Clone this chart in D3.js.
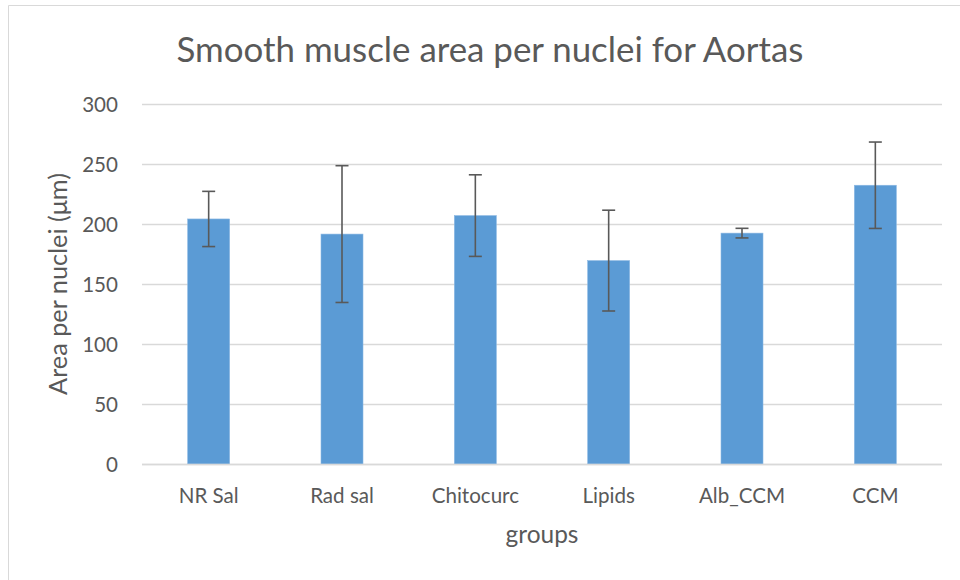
<!DOCTYPE html>
<html><head><meta charset="utf-8">
<script src="https://cdn.jsdelivr.net/npm/d3@7"></script>
<style>body{margin:0;background:#fff}svg{display:block}</style>
</head><body>
<svg id="c" width="960" height="580"></svg>
<script>
const categories = ["NR Sal","Rad sal","Chitocurc","Lipids","Alb_CCM","CCM"];
const values = [204.2, 191.6, 207, 169.5, 192.4, 232.3];
const errors = [23, 57, 34, 42, 4, 36];
const yTicks = [0,50,100,150,200,250,300];
const titleText = "Smooth muscle area per nuclei for Aortas";
const yTitle = "Area per nuclei (\u03bcm)";
const xTitle = "groups";

const svg = d3.select("#c");
const font = "Lato, 'Open Sans', sans-serif";
const txt = "#595959";
const m = {left:142, right:942, top:104, bottom:464};

// size a text so its width matches a target width
function fit(sel, target){
  const base = 20;
  sel.attr("font-size", base);
  const w = sel.node().getComputedTextLength();
  sel.attr("font-size", base*target/w);
  return base*target/w;
}

// frame
svg.append("path").attr("d","M8.5,580 V5.5 H960").attr("fill","none").attr("stroke","#d9d9d9").attr("stroke-width",1);

const x = d3.scaleBand().domain(categories).range([m.left,m.right]).paddingInner(0.685).paddingOuter(0.3425);
const y = d3.scaleLinear().domain([0,300]).range([m.bottom,m.top]);

// measure tick font size from "NR Sal" width
const probe = svg.append("text").attr("font-family",font).text(categories[0]);
const tickSize = fit(probe, 60);
probe.remove();

// gridlines
const yAxis = d3.axisLeft(y).tickValues(yTicks).tickSize(-(m.right-m.left)).tickPadding(24);
const gy = svg.append("g").attr("transform",`translate(${m.left},0)`).call(yAxis);
gy.select(".domain").remove();
gy.selectAll(".tick line").attr("stroke","#d9d9d9").attr("stroke-width",1.3);
gy.selectAll(".tick text").attr("fill",txt).attr("font-family",font).attr("font-size",tickSize).attr("dy","0.35em");

// bars
svg.append("g").selectAll("rect").data(categories).join("rect")
  .attr("x",d=>x(d)).attr("width",x.bandwidth())
  .attr("y",(d,i)=>y(values[i])).attr("height",(d,i)=>y(0)-y(values[i]))
  .attr("fill","#5b9bd5").attr("stroke","#8bb8e3").attr("stroke-width",0.6);

// x axis
const gx = svg.append("g").attr("transform",`translate(0,${m.bottom})`).call(d3.axisBottom(x).tickSize(0).tickPadding(0));
gx.select(".domain").remove();
svg.append("line").attr("x1",m.left).attr("x2",m.right).attr("y1",m.bottom+0.5).attr("y2",m.bottom+0.5).attr("stroke","#d9d9d9").attr("stroke-width",1.3);
gx.selectAll(".tick text").attr("fill",txt).attr("font-family",font).attr("font-size",tickSize).attr("y",39).attr("dy",0);

// error bars
const eg = svg.append("g").attr("stroke","#595959").attr("stroke-width",1.6).attr("fill","none");
categories.forEach((c,i)=>{
  const cx = x(c)+x.bandwidth()/2;
  const hi = y(values[i]+errors[i]), lo = y(values[i]-errors[i]);
  eg.append("line").attr("x1",cx).attr("x2",cx).attr("y1",hi).attr("y2",lo);
  eg.append("line").attr("x1",cx-6.5).attr("x2",cx+6.5).attr("y1",hi).attr("y2",hi);
  eg.append("line").attr("x1",cx-6.5).attr("x2",cx+6.5).attr("y1",lo).attr("y2",lo);
});

// titles
const t = svg.append("text").attr("x",490).attr("y",62).attr("text-anchor","middle")
  .attr("fill",txt).attr("font-family",font).text(titleText);
fit(t, 627);
const yt = svg.append("text").attr("transform","translate(67,284) rotate(-90)").attr("text-anchor","middle")
  .attr("fill",txt).attr("font-family",font).text(yTitle);
fit(yt, 222);
const xt = svg.append("text").attr("x",542).attr("y",543).attr("text-anchor","middle")
  .attr("fill",txt).attr("font-family",font).text(xTitle);
fit(xt, 73);
</script>
</body></html>
